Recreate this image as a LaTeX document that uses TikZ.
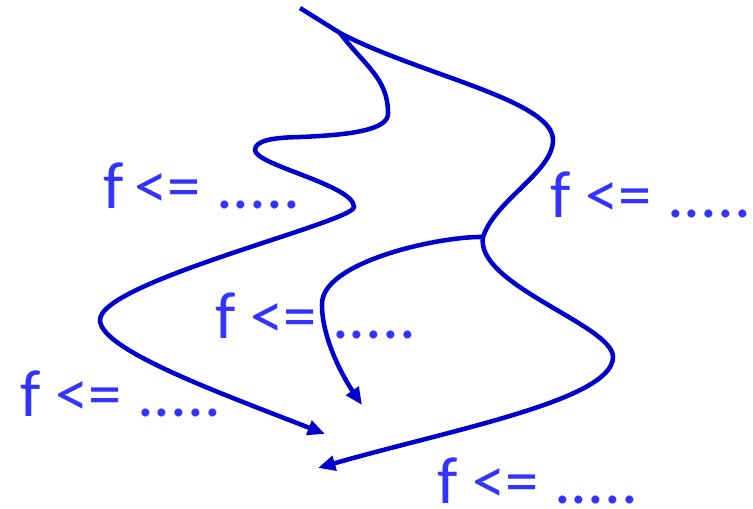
\documentclass[tikz,border=0pt]{standalone}
\usepackage{fontspec}
\setmainfont{Carlito}
\usepackage{tikz}
\usetikzlibrary{arrows.meta}
\definecolor{pathblue}{RGB}{0,0,204}
\definecolor{txtblue}{RGB}{51,51,255}

\begin{document}
\begin{tikzpicture}[
  x=0.75pt,y=-0.75pt,
  >={Triangle[length=13pt,width=11pt]},
  route/.style={line width=3.4pt,pathblue},
  cond/.style={font=\fontsize{50}{54}\selectfont,text=txtblue,inner sep=0pt,anchor=base west}
]
\useasboundingbox (0,0) rectangle (753,508);

% ---- start, branch points and arrow ends ----
\coordinate (top) at (300,8);
\coordinate (j1) at (340,33);
\coordinate (j2) at (483,237);
\coordinate (e1) at (325,434);
\coordinate (e2) at (318,468);
\coordinate (e3) at (362,405);

% ---- outer route: top -> right bulge -> lower arrow ----
\draw[route,->] (top) -- (j1)
  .. controls (420,75) and (553,100) .. (553,140)
  .. controls (553,172) and (495,200) .. (j2)
  .. controls (475,285) and (613,325) .. (613,357)
  .. controls (613,400) and (450,430) .. (e2);

% ---- left route from j1 ----
\draw[route,->] (j1) .. controls (364,65) and (388,78) .. (388,113)
  .. controls (389,130) and (350,135) .. (300,137)
  .. controls (275,137.5) and (255,140) .. (255,150)
  .. controls (255,165) and (354,185) .. (354,207)
  .. controls (354,222) and (100,282) .. (100,320)
  .. controls (100,350) and (223,394) .. (e1);

% ---- inner route from j2 ----
\draw[route,->] (j2) .. controls (440,236) and (320,262) .. (322,305)
  .. controls (322,340) and (345,380) .. (e3);

% ---- conditions ----
\node[cond] (c1) at (103,208) {f\hspace{-3pt} <= .....};
\node[cond] (c2) at (550,217) {f <= .....};
\node[cond] (c3) at (215,338) {f <= .....};
\node[cond] (c4) at (20,416) {f <= .....};
\node[cond] (c5) at (437,503) {f <= .....};

\end{tikzpicture}
\end{document}
